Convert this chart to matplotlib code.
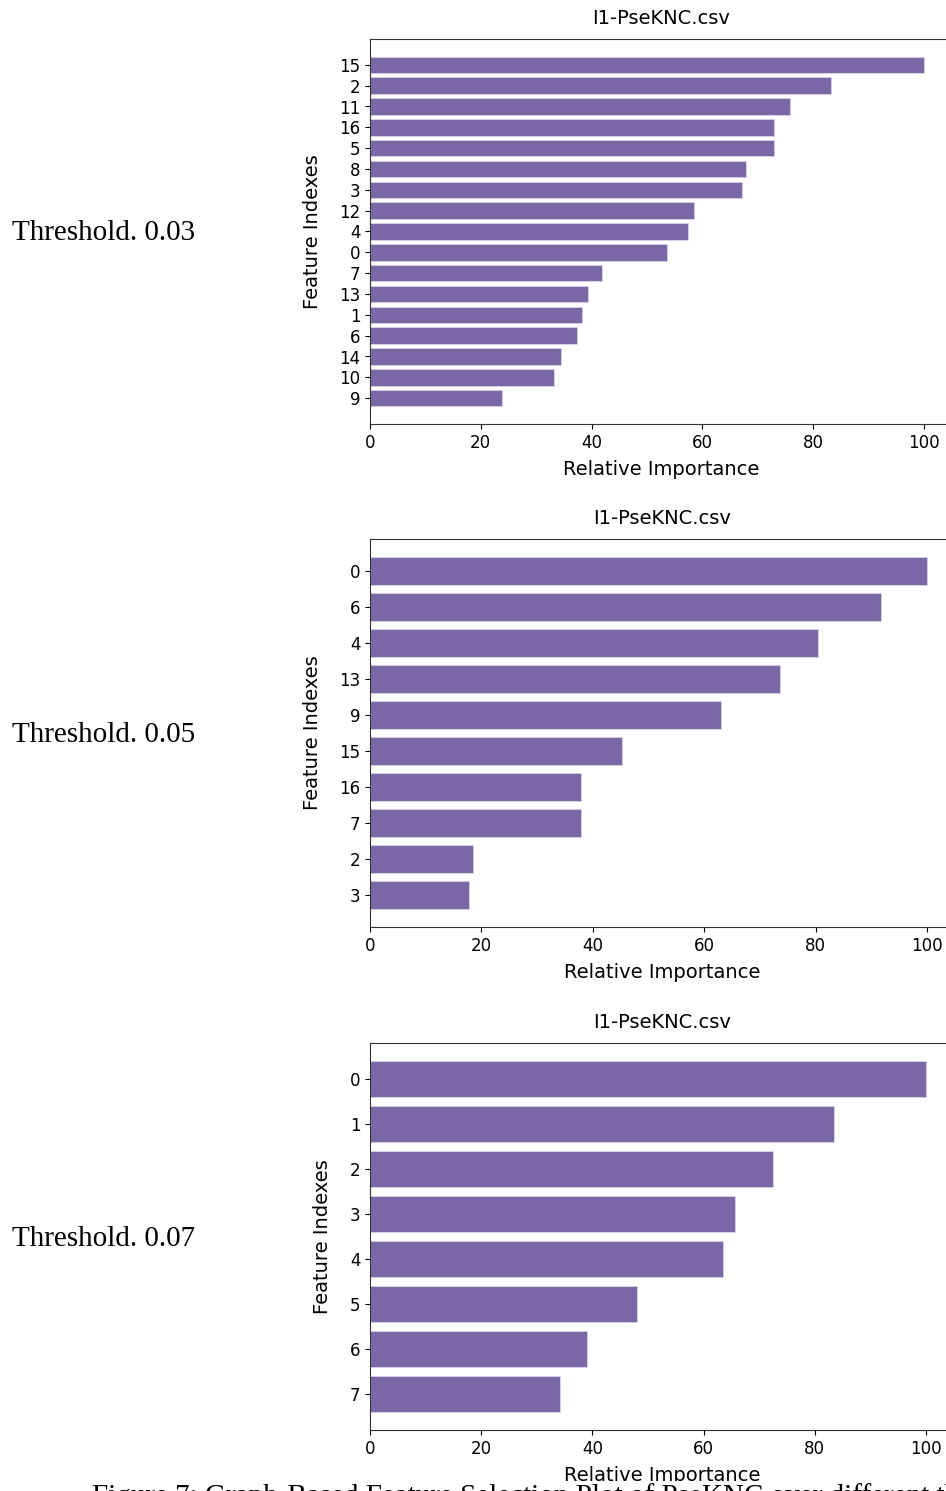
import matplotlib
matplotlib.use("Agg")
import matplotlib.pyplot as plt
from matplotlib.patches import Rectangle

# importance scores (percent of the top feature) for each threshold
idx_003 = ["15", "2", "11", "16", "5", "8", "3", "12", "4", "0", "7", "13", "1", "6", "14", "10", "9"]
imp_003 = [100, 83.3, 75.9, 72.9, 72.9, 67.9, 67.2, 58.5, 57.4, 53.6, 41.9, 39.3, 38.2, 37.4, 34.4, 33.3, 23.9]

idx_005 = ["0", "6", "4", "13", "9", "15", "16", "7", "2", "3"]
imp_005 = [100, 91.7, 80.4, 73.6, 63.0, 45.3, 37.8, 37.8, 18.5, 17.8]

idx_007 = ["0", "1", "2", "3", "4", "5", "6", "7"]
imp_007 = [100, 83.4, 72.5, 65.7, 63.5, 48.0, 39.0, 34.1]

thresholds = ["Threshold. 0.03", "Threshold. 0.05", "Threshold. 0.07"]
csv_name = "I1-PseKNC.csv"
caption = "Figure 7: Graph-Based Feature Selection Plot of PseKNC over different thresholds"

W, H = 946, 1491
fig = plt.figure(figsize=(W / 100, H / 100), dpi=100)

sans = ["DejaVu Sans"]
serif = ["Liberation Serif", "DejaVu Serif"]

# panel boxes in pixels: left, top, bottom, px per unit on x, ylabel x, crop line
boxes = [(370, 39, 424, 5.54, 322, 479),
         (370, 539, 927, 5.57, 322, 982),
         (370, 1043, 1430, 5.56, 332, 1481)]
panels = [(idx_003, imp_003), (idx_005, imp_005), (idx_007, imp_007)]

for (labels, vals), (left, top, bottom, ppu, ylx, crop), thr in zip(panels, boxes, thresholds):
    width = 105 * ppu
    ax = fig.add_axes([left / W, (H - bottom) / H, width / W, (bottom - top) / H])
    pos = list(range(len(vals)))
    ax.barh(pos, vals, height=0.8, color="#7A68A6", edgecolor="#d9d2ee", linewidth=0.6)
    ax.set_yticks(pos)
    ax.set_yticklabels(labels, family=sans, fontsize=12)
    ax.invert_yaxis()
    ax.set_xlim(0, 105)
    ax.set_xticks([0, 20, 40, 60, 80, 100])
    ax.tick_params(axis="x", labelsize=12)
    ax.set_xlabel("Relative Importance", family=sans, fontsize=14, labelpad=6)
    ax.set_ylabel("Feature Indexes", family=sans, fontsize=14)
    ax.yaxis.set_label_coords((ylx - left) / width, 0.5)
    ax.set_title(csv_name, family=sans, fontsize=14, pad=11)
    for s in ax.spines.values():
        s.set_color("#333333")
    # each panel is cut just under its x label
    fig.patches.append(Rectangle((300 / W, (H - crop - 12) / H), 646 / W, 12 / H,
                                 transform=fig.transFigure, facecolor="white",
                                 edgecolor="none", zorder=5))
    mid = (top + bottom) / 2 + 2
    fig.text(12 / W, (H - mid) / H, thr, family=serif, fontsize=21, va="center", ha="left")

# figure caption, running off the bottom edge
fig.text(92 / W, (H - 1483) / H, caption, family=serif, fontsize=21, va="top", ha="left",
         zorder=6)

fig.savefig("out.png", dpi=100)
